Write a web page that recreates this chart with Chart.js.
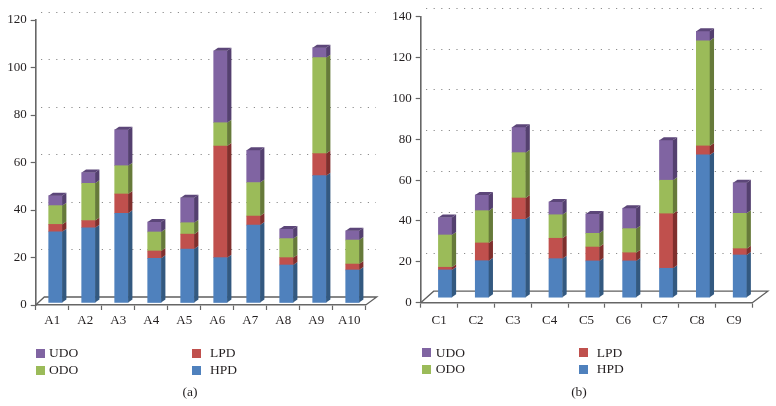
<!DOCTYPE html>
<html>
<head>
<meta charset="utf-8">
<script src="https://cdn.jsdelivr.net/npm/chart.js@4"></script>
<style>
html,body{margin:0;padding:0;background:#fff;width:776px;height:406px;overflow:hidden}
canvas{position:absolute;top:0}
.t{position:absolute;font:13.5px "Liberation Serif",serif;color:#231f20;line-height:16px;white-space:nowrap}
.s{position:absolute;width:9px;height:9px}
</style>
</head>
<body>
<canvas id="ca" width="388" height="406" style="left:0;width:388px;height:406px"></canvas>
<canvas id="cb" width="388" height="406" style="left:388px;width:388px;height:406px"></canvas>
<script>
const categoriesA = ["A1","A2","A3","A4","A5","A6","A7","A8","A9","A10"];
const hpdA = [30,31.7,37.8,18.8,22.7,19.1,32.8,16,53.6,13.9];
const lpdA = [3.1,3,8.1,3.1,6.3,47,3.8,3.1,9.3,2.5];
const odoA = [7.9,15.7,11.9,8,4.8,9.8,14.1,8,40.4,10.1];
const udoA = [4.2,4.5,15.2,4.2,10.5,30.3,13.6,4.1,4.2,3.9];

const categoriesB = ["C1","C2","C3","C4","C5","C6","C7","C8","C9"];
const hpdB = [13.6,18.1,38.4,19.1,18,18,14.4,69.9,20.9];
const lpdB = [1.3,8.7,10.4,10,6.8,4,26.7,4.4,3.1];
const odoB = [15.8,15.8,22.2,11.5,6.7,11.8,16.4,51.5,17.3];
const udoB = [8.5,7.7,12.4,6.3,9.5,10,19.6,4.6,15];

const seriesNames = ["HPD","LPD","ODO","UDO"];
const faceColors = ["#4F81BD","#C0504D","#9BBB59","#8064A2"];
const sideColors = ["#335980","#7F2F2D","#667A3A","#54406F"];
const topColors  = ["#3E6797","#943B39","#788F45","#5C4679"];

const depthPlugin = {
  id: "depth",
  beforeDatasetsDraw(chart, args, o) {
    const c = chart.ctx, x = chart.scales.x, y = chart.scales.y;
    const y0 = y.getPixelForValue(0);
    c.save();
    c.strokeStyle = "#8c8c8c";
    c.lineWidth = 1;
    c.setLineDash([1.2, 6.4]);
    y.ticks.forEach(t => {
      if (t.value === 0) return;
      const py = Math.round(y.getPixelForValue(t.value) - o.gridUp) + 0.5;
      c.beginPath(); c.moveTo(o.gridStart, py); c.lineTo(o.gridEnd, py); c.stroke();
    });
    c.setLineDash([]);
    c.strokeStyle = "#5f5f5f";
    c.lineWidth = 1.3;
    c.beginPath();
    c.moveTo(x.left, y0);
    c.lineTo(x.left + o.floorL, y0 - o.floorUp);
    c.lineTo(x.right + o.floorR, y0 - o.floorUp);
    c.lineTo(x.right, y0);
    c.stroke();
    c.restore();
    c.save();
    c.translate(o.shiftX, -o.shiftY);
  },
  afterDatasetsDraw(chart, args, o) {
    const c = chart.ctx, n = chart.data.datasets.length;
    for (let d = 0; d < n; d++) {
      chart.getDatasetMeta(d).data.forEach(b => {
        const r = b.x + b.width / 2, l = b.x - b.width / 2;
        c.fillStyle = sideColors[d];
        c.beginPath();
        c.moveTo(r, b.y); c.lineTo(r + o.depthX, b.y - o.depthY);
        c.lineTo(r + o.depthX, b.base - o.depthY); c.lineTo(r, b.base);
        c.closePath(); c.fill();
        if (d === n - 1) {
          c.fillStyle = topColors[d];
          c.beginPath();
          c.moveTo(l, b.y); c.lineTo(l + o.depthX, b.y - o.depthY);
          c.lineTo(r + o.depthX, b.y - o.depthY); c.lineTo(r, b.y);
          c.closePath(); c.fill();
        }
      });
    }
    c.restore();
  }
};

function build(id, categories, series, maxV, area, depth, xPad, yPad) {
  new Chart(document.getElementById(id), {
    type: "bar",
    data: {
      labels: categories,
      datasets: series.map((v, i) => ({
        label: seriesNames[i], data: v, backgroundColor: faceColors[i],
        borderWidth: 0, barThickness: 13.4, clip: false
      }))
    },
    options: {
      responsive: false, animation: false, devicePixelRatio: 1,
      layout: { padding: { left: 0, top: area.top, right: 388 - area.right, bottom: 0 } },
      plugins: { legend: { display: false }, tooltip: { enabled: false }, depth },
      scales: {
        x: {
          stacked: true, afterFit(s) { s.height = 406 - area.bottom; },
          grid: { drawOnChartArea: false, color: "#666", tickLength: 5, tickWidth: 1.2 },
          border: { color: "#666", width: 1.6 },
          ticks: { autoSkip: false, maxRotation: 0, padding: xPad, color: "#231f20",
                   font: { family: "Liberation Serif", size: 13 } }
        },
        y: {
          stacked: true, min: 0, max: maxV, afterFit(s) { s.width = area.left; },
          grid: { drawOnChartArea: false, color: "#666", tickLength: 5, tickWidth: 1.2 },
          border: { color: "#666", width: 1.6 },
          ticks: { stepSize: 20, padding: yPad, color: "#231f20",
                   font: { family: "Liberation Serif", size: 13 } }
        }
      }
    },
    plugins: [depthPlugin]
  });
}

build("ca", categoriesA, [hpdA, lpdA, odoA, udoA], 120,
  { left: 35.7, top: 20, right: 365.7, bottom: 305 },
  { gridUp: 8.5, gridStart: 41, gridEnd: 376, floorL: 8.6, floorR: 11, floorUp: 8,
    shiftX: 3.2, shiftY: 2, depthX: 4.3, depthY: 3 }, 3, 4);

build("cb", categoriesB, [hpdB, lpdB, odoB, udoB], 140,
  { left: 32.7, top: 16.7, right: 364.3, bottom: 302.7 },
  { gridUp: 9, gridStart: 38, gridEnd: 374, floorL: 13, floorR: 15.5, floorUp: 11.5,
    shiftX: 6, shiftY: 5, depthX: 4.3, depthY: 3 }, 5, 4);

const legendLayouts = [
  { leftX: 35.5, rightX: 192.3, leftT: 49, rightT: 210, y1: 353, y2: 370, cap: "(a)", capX: 190 },
  { leftX: 421.7, rightX: 579, leftT: 435.7, rightT: 596.7, y1: 352.7, y2: 369.3, cap: "(b)", capX: 579 }
];
function addText(txt, x, y, center) {
  const e = document.createElement("div");
  e.className = "t"; e.textContent = txt;
  e.style.left = x + "px"; e.style.top = (y - 8) + "px";
  if (center) e.style.transform = "translateX(-50%)";
  document.body.appendChild(e);
}
function addSwatch(col, x, y) {
  const e = document.createElement("div");
  e.className = "s"; e.style.background = col;
  e.style.left = x + "px"; e.style.top = (y - 4.5) + "px";
  document.body.appendChild(e);
}
legendLayouts.forEach(L => {
  addSwatch(faceColors[3], L.leftX, L.y1);  addText(seriesNames[3], L.leftT, L.y1);
  addSwatch(faceColors[2], L.leftX, L.y2);  addText(seriesNames[2], L.leftT, L.y2);
  addSwatch(faceColors[1], L.rightX, L.y1); addText(seriesNames[1], L.rightT, L.y1);
  addSwatch(faceColors[0], L.rightX, L.y2); addText(seriesNames[0], L.rightT, L.y2);
  addText(L.cap, L.capX, 392, true);
});
</script>
</body>
</html>
